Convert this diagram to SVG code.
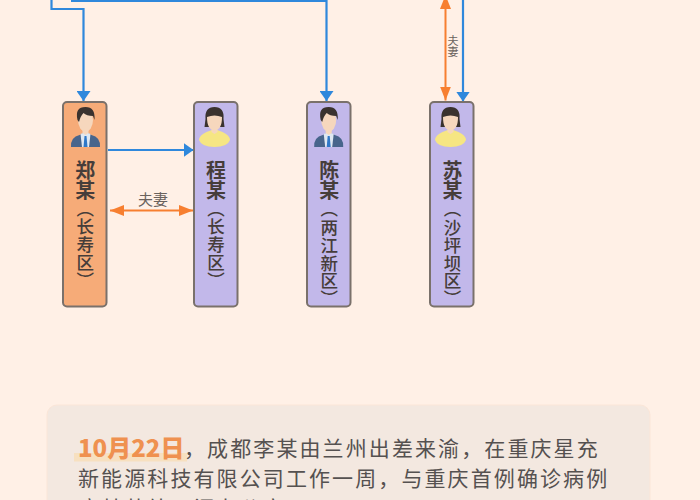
<svg xmlns="http://www.w3.org/2000/svg" width="700" height="500" viewBox="0 0 700 500">
<style>
text{font-family:"Noto Sans CJK SC","Noto Sans",sans-serif}
.card{stroke:#7a716b;stroke-width:2}
.o{fill:#f6ab78}.p{fill:#c2b8ea}
.name{font-size:20px;font-weight:700;fill:#463d3a;writing-mode:vertical-rl}
.sub{font-size:17.500px;font-weight:500;fill:#463d3a;writing-mode:vertical-rl}
.blue{fill:none;stroke:#2f88dc;stroke-width:2.200}
.org{fill:none;stroke:#f77f30;stroke-width:2}
.lab{font-size:15px;fill:#6a625d;text-anchor:middle}
.vlab{font-size:11px;fill:#6a625d;writing-mode:vertical-rl}
.body{font-size:21px;fill:#555150;letter-spacing:2.100px}
.skin{fill:#f6d7bd}.hair{fill:#3a322e}.suit{fill:#48658c}
</style>
<defs>
<marker id="ab" markerUnits="userSpaceOnUse" markerWidth="11" markerHeight="14" refX="10" refY="7" orient="auto"><path d="M0 0L10 7L0 14Z" fill="#2f88dc"/></marker>
<marker id="ao" markerUnits="userSpaceOnUse" markerWidth="15" markerHeight="12" refX="14" refY="6" orient="auto-start-reverse"><path d="M0 0.500L14 6L0 11.500Z" fill="#f77f30"/></marker>
<g id="man"><path d="M-14.500 20Q-15 10-6 8L0 5L6 8Q15 10 14.500 20Z" class="suit"/><path d="M-5 7L0 5L5 7L3.500 20H-3.500Z" fill="#dfe8f2"/><path d="M-1 9H1L2 20H-2Z" fill="#2f78c8"/><path d="M-3 0H3V6L0 8L-3 6Z" class="skin"/><ellipse cx="0" cy="-7" rx="7.500" ry="11.500" class="skin"/><path d="M-8-7Q-11-20 0-20Q10-20 9-7L7.500-11Q1-11-2-14Q-5-11-6.500-5Z" class="hair"/></g>
<g id="woman"><path d="M-15.500 13Q-15 8-8 5L0 2L8 5Q15 8 15.500 13Q13 20 0 20Q-13 20-15.500 13Z" fill="#f6e683"/><path d="M-9-8Q-10-20 0-20Q10-20 9-8L10 0L7 0L-7 0L-10 0Z" class="hair"/><path d="M-3 0H3V5L0 7L-3 5Z" class="skin"/><path d="M-7.500-10Q0-13 7.500-10Q7.500 3 0 3Q-7.500 3-7.500-10Z" class="skin"/></g>
</defs>
<rect width="700" height="500" fill="#fff0e6"/>
<g id="connectors">
<path class="blue" d="M51.500 0V9H83.500V101" marker-end="url(#ab)"/>
<path class="blue" d="M71 1H326.500V101" marker-end="url(#ab)"/>
<path class="blue" d="M108 150H193.500" marker-end="url(#ab)"/>
<path class="blue" d="M463 0V101.500" marker-end="url(#ab)"/>
<path class="org" d="M110 210.500H193" marker-start="url(#ao)" marker-end="url(#ao)"/>
<path class="org" d="M445.500-5V100.500" marker-start="url(#ao)" marker-end="url(#ao)"/>
<text class="lab" x="153" y="205">夫妻</text>
<text class="vlab" x="453" y="35">夫</text>
<text class="vlab" x="453" y="46">妻</text>
</g>
<g id="zheng">
<rect class="card o" x="63" y="102" width="43.500" height="204.500" rx="4"/>
<use href="#man" x="85.500" y="127"/>
<text class="name" x="85.300" y="160">郑</text><text class="name" x="85.300" y="180">某</text>
<text class="sub" x="85.300" y="200">（</text><text class="sub" x="85.300" y="218">长</text><text class="sub" x="85.300" y="236">寿</text><text class="sub" x="85.300" y="254">区</text><text class="sub" x="85.300" y="272">）</text>
</g>
<g id="cheng">
<rect class="card p" x="194" y="102" width="43.500" height="204.500" rx="4"/>
<use href="#woman" x="214.500" y="127"/>
<text class="name" x="216" y="160">程</text><text class="name" x="216" y="180">某</text>
<text class="sub" x="216" y="200">（</text><text class="sub" x="216" y="218">长</text><text class="sub" x="216" y="236">寿</text><text class="sub" x="216" y="254">区</text><text class="sub" x="216" y="272">）</text>
</g>
<g id="chen">
<rect class="card p" x="307" y="102" width="43.500" height="204.500" rx="4"/>
<use href="#man" x="328.700" y="127"/>
<text class="name" x="329.300" y="160">陈</text><text class="name" x="329.300" y="180">某</text>
<text class="sub" x="329.300" y="200">（</text><text class="sub" x="329.300" y="219">两</text><text class="sub" x="329.300" y="237">江</text><text class="sub" x="329.300" y="254.500">新</text><text class="sub" x="329.300" y="272">区</text><text class="sub" x="329.300" y="290">）</text>
</g>
<g id="su">
<rect class="card p" x="430" y="102" width="43.500" height="204.500" rx="4"/>
<use href="#woman" x="450.500" y="127"/>
<text class="name" x="452.500" y="160">苏</text><text class="name" x="452.500" y="180">某</text>
<text class="sub" x="452.500" y="200">（</text><text class="sub" x="452.500" y="219">沙</text><text class="sub" x="452.500" y="237">坪</text><text class="sub" x="452.500" y="254.500">坝</text><text class="sub" x="452.500" y="272">区</text><text class="sub" x="452.500" y="290">）</text>
</g>
<g id="note">
<rect x="47" y="405" width="603" height="110" rx="10" fill="#f3e8e0" stroke="#fbe6d8" stroke-width="1"/>
<rect x="74" y="453" width="113" height="8.500" fill="#f7e0c0"/>
<text x="78" y="457" font-size="24" font-weight="900" fill="#ef9150">10月22日</text>
<text class="body" x="184" y="456">，成都李某由兰州出差来渝，在重庆星充</text>
<text class="body" x="78" y="486">新能源科技有限公司工作一周，与重庆首例确诊病例</text>
<text class="body" x="78" y="516">唐某共处一间办公室</text>
</g>
</svg>
